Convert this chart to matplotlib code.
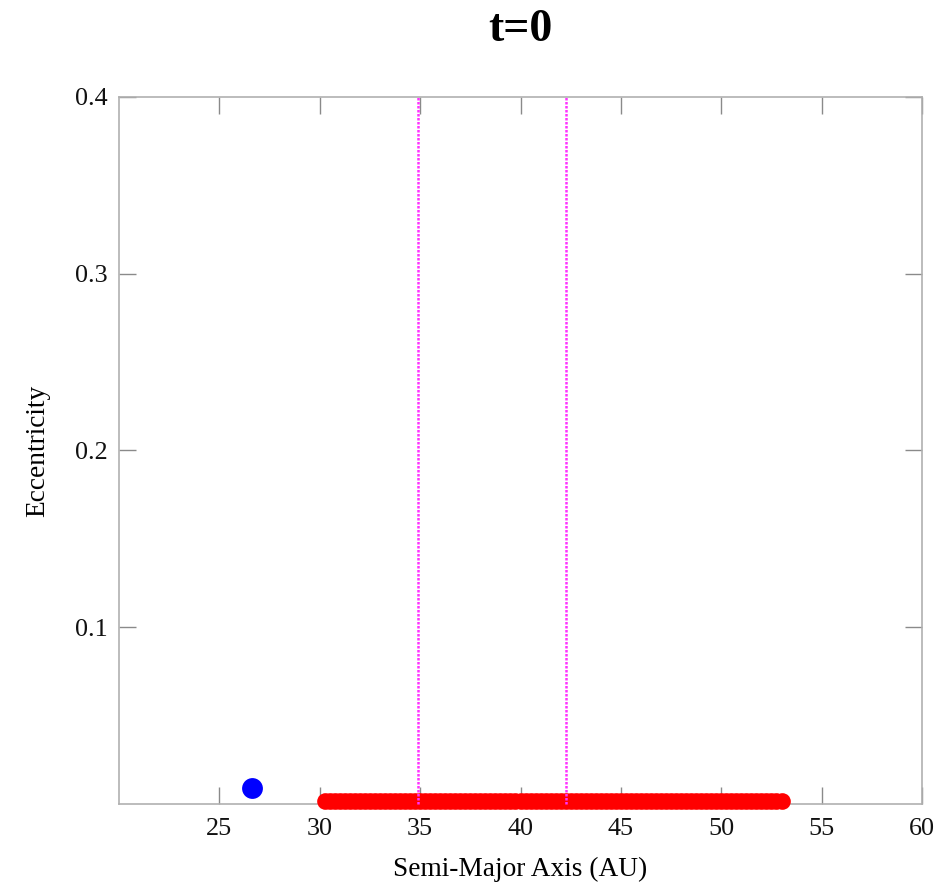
import numpy as np
import matplotlib
matplotlib.use("Agg")
import matplotlib.pyplot as plt

plt.rcParams['font.family'] = ['Liberation Serif', 'DejaVu Serif']

# data
title = "t=0"
planet_a = [26.64]
planet_e = [0.009]
belt_a = [30.25, 30.5, 30.75, 31.0, 31.25, 31.5, 31.75, 32.0, 32.25, 32.5, 32.75,
          33.0, 33.25, 33.5, 33.75, 34.0, 34.25, 34.5, 34.75, 35.0, 35.25, 35.5,
          35.75, 36.0, 36.25, 36.5, 36.75, 37.0, 37.25, 37.5, 37.75, 38.0, 38.25,
          38.5, 38.75, 39.0, 39.25, 39.5, 39.75, 40.0, 40.25, 40.5, 40.75, 41.0,
          41.25, 41.5, 41.75, 42.0, 42.25, 42.5, 42.75, 43.0, 43.25, 43.5, 43.75,
          44.0, 44.25, 44.5, 44.75, 45.0, 45.25, 45.5, 45.75, 46.0, 46.25, 46.5,
          46.75, 47.0, 47.25, 47.5, 47.75, 48.0, 48.25, 48.5, 48.75, 49.0, 49.25,
          49.5, 49.75, 50.0, 50.25, 50.5, 50.75, 51.0, 51.25, 51.5, 51.75, 52.0,
          52.25, 52.5, 52.75, 53.0]
belt_e = [0.0015] * len(belt_a)
resonances = [34.9, 42.26]
xticks = [25, 30, 35, 40, 45, 50, 55, 60]
yticks = [0.1, 0.2, 0.3, 0.4]

fig = plt.figure(figsize=(9.45, 8.94), dpi=100)
ax = fig.add_axes([0.1259, 0.1007, 0.8498, 0.7908])

for r in resonances:
    ax.axvline(r, color='#ff33ff', lw=1.8, ls=(0, (1, 0.6)), zorder=4, clip_on=False)

ax.plot(belt_a, belt_e, 'o', color='#ff0000', ms=12, mec='none', zorder=3, clip_on=False)
ax.plot(planet_a, planet_e, 'o', color='#0000ff', ms=15, mec='none', zorder=3, clip_on=False)

ax.set_xlim(20, 60)
ax.set_ylim(0, 0.4)
ax.set_xticks(xticks)
ax.set_yticks(yticks)
ax.set_xticklabels([str(t) for t in xticks])
ax.set_yticklabels(["%.1f" % t for t in yticks])
ax.tick_params(direction='in', length=12, width=1, color='#8a8a8a',
               top=True, right=True, labelsize=18.8, pad=10, labelcolor='#111111')
ax.tick_params(axis='y', pad=8)
for s in ax.spines.values():
    s.set_color('#b0b0b0')
    s.set_linewidth(1.2)

ax.set_xlabel("Semi-Major Axis (AU)", fontsize=19.7, labelpad=12)
ax.set_ylabel("Eccentricity", fontsize=19.7, labelpad=18)
ax.set_title(title, fontsize=33, fontweight='bold', pad=40)

fig.savefig("out.png", dpi=100)
